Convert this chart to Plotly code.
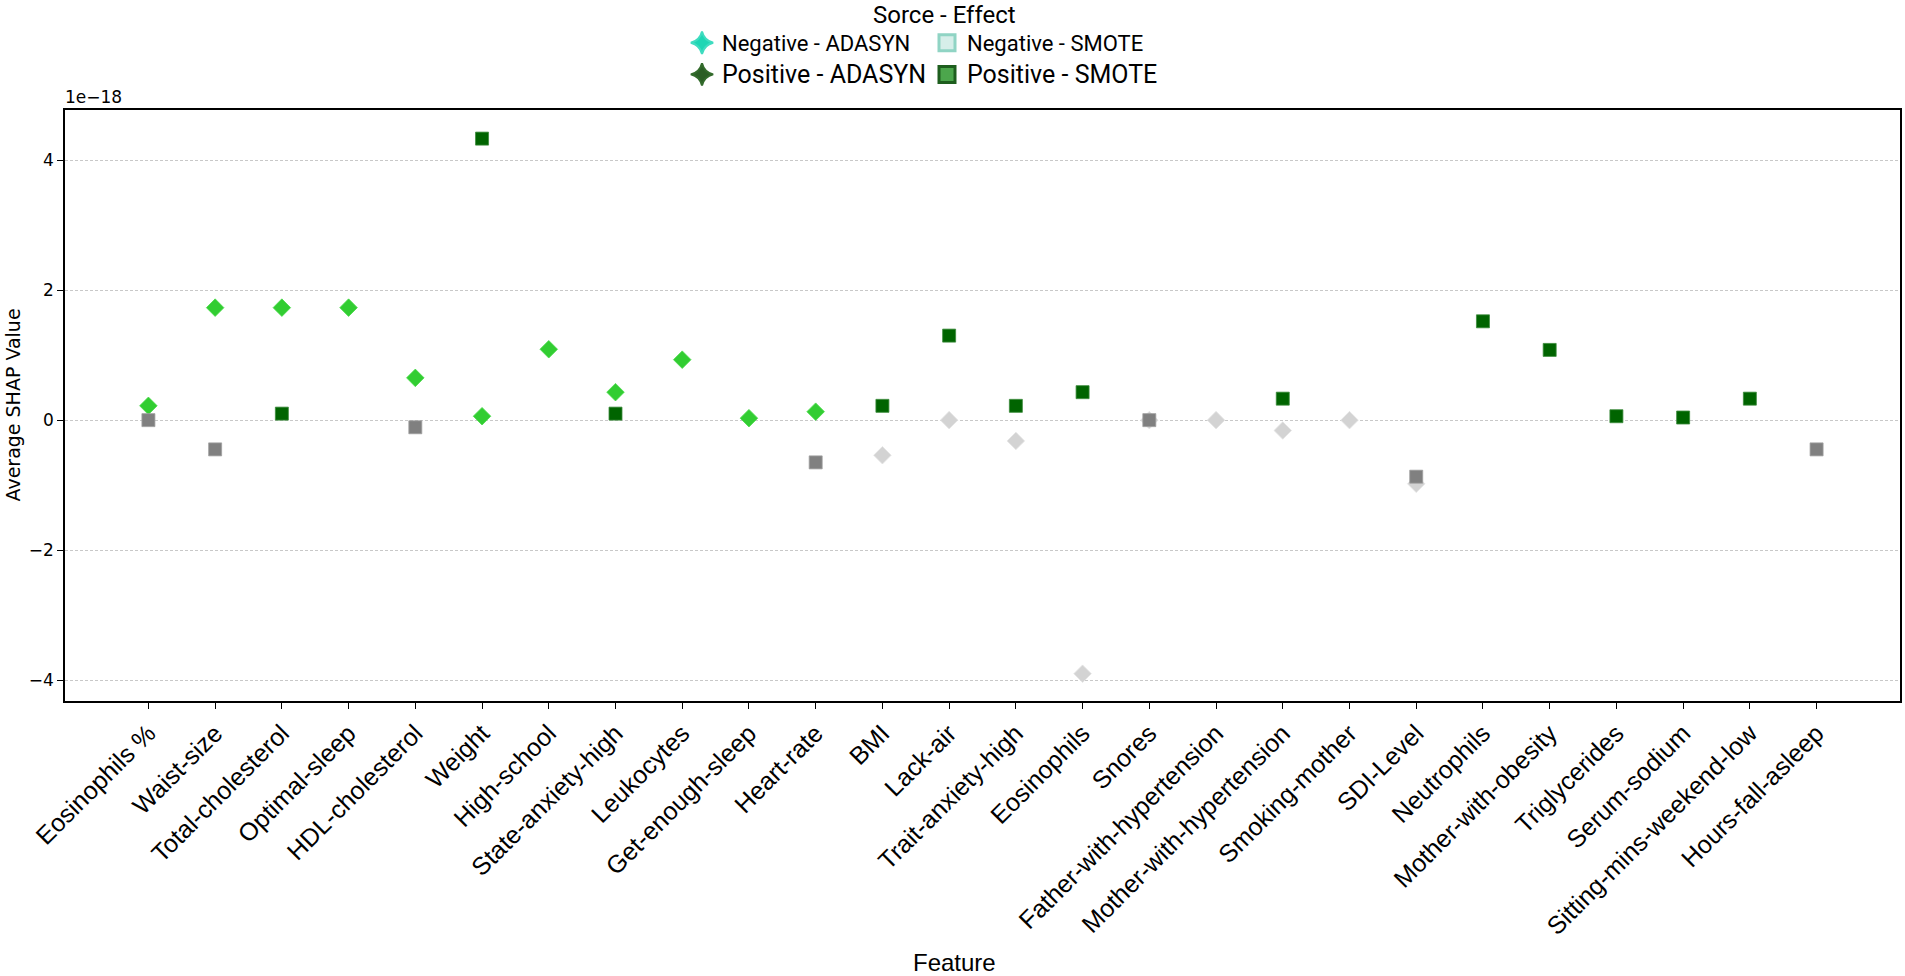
import plotly.graph_objects as go

# ---- data (values in units of 1e-18) ----
features = ["Eosinophils %", "Waist-size", "Total-cholesterol", "Optimal-sleep", "HDL-cholesterol",
            "Weight", "High-school", "State-anxiety-high", "Leukocytes", "Get-enough-sleep",
            "Heart-rate", "BMI", "Lack-air", "Trait-anxiety-high", "Eosinophils", "Snores",
            "Father-with-hypertension", "Mother-with-hypertension", "Smoking-mother", "SDI-Level",
            "Neutrophils", "Mother-with-obesity", "Triglycerides", "Serum-sodium",
            "Sitting-mins-weekend-low", "Hours-fall-asleep"]

positive_adasyn = [0.22, 1.73, 1.73, 1.73, 0.65, 0.06, 1.09, 0.43, 0.93, 0.03,
                   0.13, None, None, None, None, None, None, None, None, None,
                   None, None, None, None, None, None]
negative_adasyn = [None, None, None, None, None, None, None, None, None, None,
                   None, -0.54, 0.0, -0.32, -3.9, 0.0, 0.0, -0.16, 0.0, -0.98,
                   None, None, None, None, None, None]
positive_smote = [None, None, 0.10, None, None, 4.33, None, 0.10, None, None,
                  None, 0.22, 1.30, 0.22, 0.43, None, None, 0.33, None, None,
                  1.52, 1.08, 0.06, 0.04, 0.33, None]
negative_smote = [0.0, -0.45, None, None, -0.11, None, None, None, None, None,
                  -0.65, None, None, None, None, 0.0, None, None, None, -0.87,
                  None, None, None, None, None, -0.45]

legend_names = ["Negative - ADASYN", "Positive - ADASYN", "Negative - SMOTE", "Positive - SMOTE"]

W, H = 1905, 976
L, R, T, B = 65, 5, 110, 275
PW, PH = W - L - R, H - T - B

def px_x(p):
    return (p - L) / PW

def px_y(p):
    return 1 - (p - T) / PH

fig = go.Figure()

idx = list(range(len(features)))

# plotted markers (diamonds first, then squares on top)
fig.add_trace(go.Scatter(x=idx, y=negative_adasyn, mode="markers", showlegend=False,
                         marker=dict(symbol="diamond", size=13.5, color="#D3D3D3",
                                     line=dict(width=0.8, color="#E4E4E4"))))
fig.add_trace(go.Scatter(x=idx, y=positive_adasyn, mode="markers", showlegend=False,
                         marker=dict(symbol="diamond", size=13.5, color="#32CD32",
                                     line=dict(width=0.8, color="#4ADB4A"))))
fig.add_trace(go.Scatter(x=idx, y=negative_smote, mode="markers", showlegend=False,
                         marker=dict(symbol="square", size=13, color="#808080",
                                     line=dict(width=0.8, color="#A0A0A0"))))
fig.add_trace(go.Scatter(x=idx, y=positive_smote, mode="markers", showlegend=False,
                         marker=dict(symbol="square", size=13, color="#006400",
                                     line=dict(width=0.8, color="#3C8C3C"))))

# legend-only entries
fig.add_trace(go.Scatter(x=[None], y=[None], mode="markers", name=legend_names[0], legend="legend",
                         marker=dict(symbol="star-diamond", size=16, color="#1ED6B4",
                                     line=dict(width=2, color="#3FDCC0"))))
fig.add_trace(go.Scatter(x=[None], y=[None], mode="markers",
                         name="<span style='font-size:25px'>" + legend_names[1] + "</span>", legend="legend",
                         marker=dict(symbol="star-diamond", size=16, color="#2B5E25",
                                     line=dict(width=2, color="#336B2C"))))
fig.add_trace(go.Scatter(x=[None], y=[None], mode="markers", name=legend_names[2], legend="legend2",
                         marker=dict(symbol="square", size=16, color="#D6EEE9",
                                     line=dict(width=3, color="#90D4C4"))))
fig.add_trace(go.Scatter(x=[None], y=[None], mode="markers",
                         name="<span style='font-size:25px'>" + legend_names[3] + "</span>", legend="legend2",
                         marker=dict(symbol="square", size=16, color="#4CA64C",
                                     line=dict(width=3, color="#1E5E1E"))))

legend_common = dict(orientation="v", xanchor="left", yanchor="top", bgcolor="rgba(0,0,0,0)",
                     font=dict(family="Roboto", size=22, color="black"), tracegroupgap=0,
                     itemclick=False, itemdoubleclick=False)

fig.update_layout(
    width=W, height=H,
    margin=dict(l=L, r=R, t=T, b=B),
    plot_bgcolor="white", paper_bgcolor="white",
    legend=dict(x=px_x(682), y=px_y(22), **legend_common),
    legend2=dict(x=px_x(927), y=px_y(22), **legend_common),
    xaxis=dict(
        range=[-1.25, 26.25], tickmode="array", tickvals=idx, ticktext=features,
        tickangle=-45, showgrid=False, zeroline=False, automargin=False,
        showline=True, linecolor="black", linewidth=1.5, mirror=True,
        ticks="outside", ticklen=6, tickcolor="black", tickwidth=1,
        tickfont=dict(family="Liberation Sans", size=25, color="black"),
    ),
    yaxis=dict(
        range=[-4.32, 4.77], tickmode="array", tickvals=[-4, -2, 0, 2, 4],
        showgrid=True, gridcolor="#C8C8C8", gridwidth=1, griddash="3px,2px",
        zeroline=False, automargin=False,
        showline=True, linecolor="black", linewidth=1.5, mirror=True,
        ticks="outside", ticklen=6, tickcolor="black", tickwidth=1,
        tickfont=dict(family="DejaVu Sans", size=17, color="black"),
    ),
    annotations=[
        dict(text="Sorce - Effect", x=px_x(944), y=px_y(15), xref="paper", yref="paper",
             xanchor="center", yanchor="middle", showarrow=False,
             font=dict(family="Roboto", size=24, color="black")),
        dict(text="1e\u221218", x=0, y=1, xref="paper", yref="paper", xanchor="left",
             yanchor="bottom", yshift=1, xshift=-2, showarrow=False,
             font=dict(family="DejaVu Sans", size=17, color="black")),
        dict(text="Average SHAP Value", x=px_x(12), y=0.5, xref="paper", yref="paper",
             xanchor="center", yanchor="middle", textangle=-90, showarrow=False,
             font=dict(family="DejaVu Sans", size=19, color="black")),
        dict(text="Feature", x=px_x(954), y=px_y(962), xref="paper", yref="paper",
             xanchor="center", yanchor="middle", showarrow=False,
             font=dict(family="Liberation Sans", size=24, color="black")),
    ],
)

fig.write_html("out.html", config={"displayModeBar": False},
               post_script="document.body.style.margin='0';document.body.style.overflow='hidden';")
